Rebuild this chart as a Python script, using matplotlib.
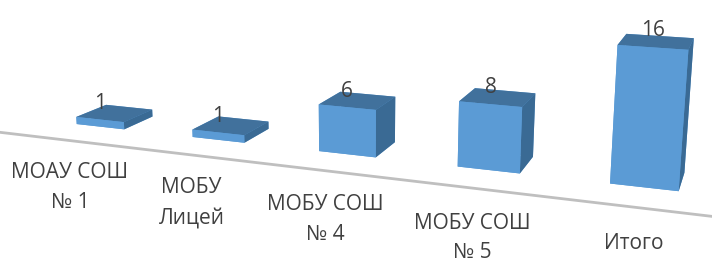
import numpy as np
import matplotlib
matplotlib.use("Agg")
import matplotlib.pyplot as plt

plt.rcParams['font.family'] = ['Open Sans', 'DejaVu Sans']

categories = ["МОАУ СОШ\n№ 1", "МОБУ\nЛицей", "МОБУ СОШ\n№ 4", "МОБУ СОШ\n№ 5", "Итого"]
values = [1, 1, 6, 8, 16]

FRONT = "#5B9BD5"
TOP = "#41719C"
SIDE = "#3A6A94"
TEXT = "#404040"

ZOOM = 1.0
W_IN, H_IN = 7.14, 2.62
fig = plt.figure(figsize=(W_IN, H_IN), dpi=100)
# 3D axes are forced square: make the square wider than the figure
scale = 1.02
sq = W_IN / H_IN
ax = fig.add_axes([-0.023, (1 - sq * scale) / 2 + 0.153,
                   scale, sq * scale], projection="3d")
ax.set_proj_type("persp", focal_length=0.28 * ZOOM)
ax.view_init(elev=13, azim=-69)

w, d = 0.42, 0.40
xs = np.arange(len(values), dtype=float)
n = len(values)
# face order in bar3d: -z, +z, -y, +y, -x, +x
face_colors = [FRONT, TOP, FRONT, FRONT, FRONT, SIDE] * n
ax.bar3d(xs - w / 2, np.full(n, -d / 2), np.zeros(n), w, d, values,
         color=face_colors, shade=False, edgecolor="none")

# front edge of floor
ax.plot([-0.8, n + 0.2], [-0.6, -0.6], [0, 0], color="#BFBFBF", lw=2)

for x, v, c in zip(xs, values, categories):
    ax.text(x, -d / 2, v + 0.7, str(v), ha="center", va="bottom",
            fontsize=15, color=TEXT, zorder=100)
    ax.text(x, -0.6, -2.9, c, ha="center", va="top",
            fontsize=15, color=TEXT, zorder=100, linespacing=1.55)

ax.set_xlim(-0.5, n - 0.5)
ax.set_ylim(-0.6, 0.6)
ax.set_zlim(0, 17)
ax.set_box_aspect((5, 1.2, 0.95), zoom=ZOOM)
ax.set_axis_off()

fig.savefig("out.png", dpi=100)
